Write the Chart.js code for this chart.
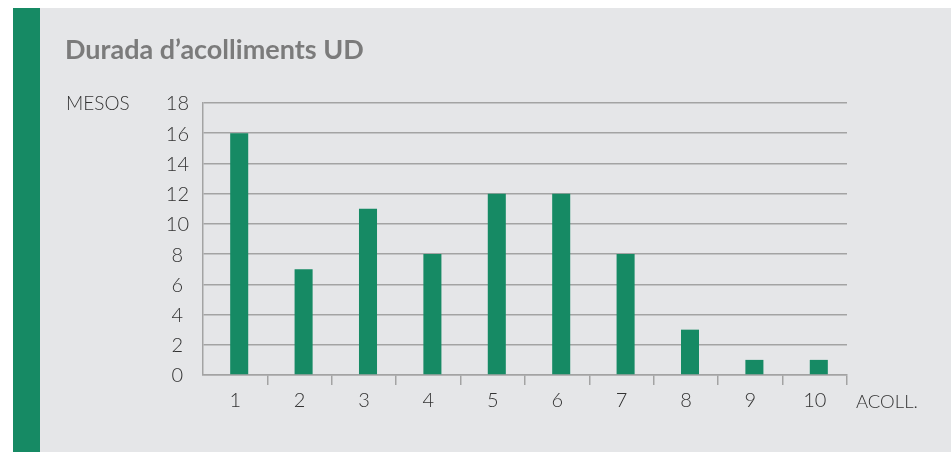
<!DOCTYPE html>
<html>
<head>
<meta charset="utf-8">
<script src="https://cdn.jsdelivr.net/npm/chart.js@4"></script>
<style>
  body { margin: 0; background: #ffffff; width: 951px; height: 452px; overflow: hidden; position: relative; font-family: Lato, sans-serif; }
  #panel { position: absolute; left: 13px; top: 8px; width: 938px; height: 444px; background: #e5e6e8; }
  #franja { position: absolute; left: 13px; top: 8px; width: 27px; height: 444px; background: #168a64; }
  #grafic { position: absolute; left: 0; top: 0; }
  .txt { position: absolute; white-space: nowrap; }
  #titol { left: 65px; top: 35px; font-size: 27px; line-height: 27px; font-weight: 700; color: #7b7b7b; }
  #mesos { left: 66px; top: 93px; font-size: 19px; line-height: 19px; font-weight: 300; color: #333333; }
  #acoll { left: 856px; top: 392px; font-size: 18.5px; line-height: 18.5px; font-weight: 300; color: #333333; }
</style>
</head>
<body>
<div id="panel"></div>
<div id="franja"></div>
<canvas id="grafic" width="951" height="452"></canvas>
<div class="txt" id="titol">Durada d’acolliments UD</div>
<div class="txt" id="mesos">MESOS</div>
<div class="txt" id="acoll">ACOLL.</div>
<script>
// Dades del gràfic
const acolliments = ['1', '2', '3', '4', '5', '6', '7', '8', '9', '10'];
const mesos = [16, 7, 11, 8, 12, 12, 8, 3, 1, 1];
const escalaMin = 0;
const escalaMax = 18;
const escalaPas = 2;

const colorVerd = '#168a64';
const colorGraella = '#a3a3a3';
const colorText = '#333333';

// a l'original les barres estan una mica desplaçades a la dreta
const desplaçaBarres = {
    id: 'desplacaBarres',
    beforeDatasetsDraw(chart) { chart.ctx.save(); chart.ctx.translate(4, 0); },
    afterDatasetsDraw(chart) { chart.ctx.restore(); }
};

const ctx = document.getElementById('grafic').getContext('2d');
const grafic = new Chart(ctx, {
    type: 'bar',
    data: {
        labels: acolliments,
        datasets: [{
            label: 'Mesos',
            data: mesos,
            backgroundColor: colorVerd,
            borderWidth: 0,
            categoryPercentage: 1,
            barPercentage: 0.28
        }]
    },
    options: {
        responsive: false,
        animation: false,
        layout: { padding: { top: 103, right: 104, bottom: 0, left: 0 } },
        plugins: {
            legend: { display: false },
            tooltip: { enabled: false }
        },
        scales: {
            x: {
                afterFit: function(s) { s.height = 77; }, // eix fins a y=375
                border: { display: true, color: colorGraella, width: 1.5 },
                grid: {
                    offset: true,
                    drawOnChartArea: true,
                    drawTicks: true,
                    tickLength: 10,
                    lineWidth: 1.5,
                    // només la línia de la dreta dins l'àrea
                    color: c => c.index === acolliments.length ? colorGraella : 'rgba(0,0,0,0)',
                    tickColor: c => c.index === 0 ? 'rgba(0,0,0,0)' : colorGraella
                },
                ticks: {
                    color: colorText,
                    padding: 4,
                    font: { family: 'Lato', size: 20, weight: 300 }
                }
            },
            y: {
                min: escalaMin,
                max: escalaMax,
                afterFit: function(s) { s.width = 203; },
                border: { display: true, color: colorGraella, width: 1.5 },
                grid: {
                    drawTicks: false,
                    color: colorGraella,
                    lineWidth: 1.5
                },
                ticks: {
                    stepSize: escalaPas,
                    color: colorText,
                    padding: 14,
                    crossAlign: 'center',
                    labelOffset: 1,
                    font: { family: 'Lato', size: 20, weight: 300 }
                }
            }
        }
    },
    plugins: [desplaçaBarres]
});
</script>
</body>
</html>
